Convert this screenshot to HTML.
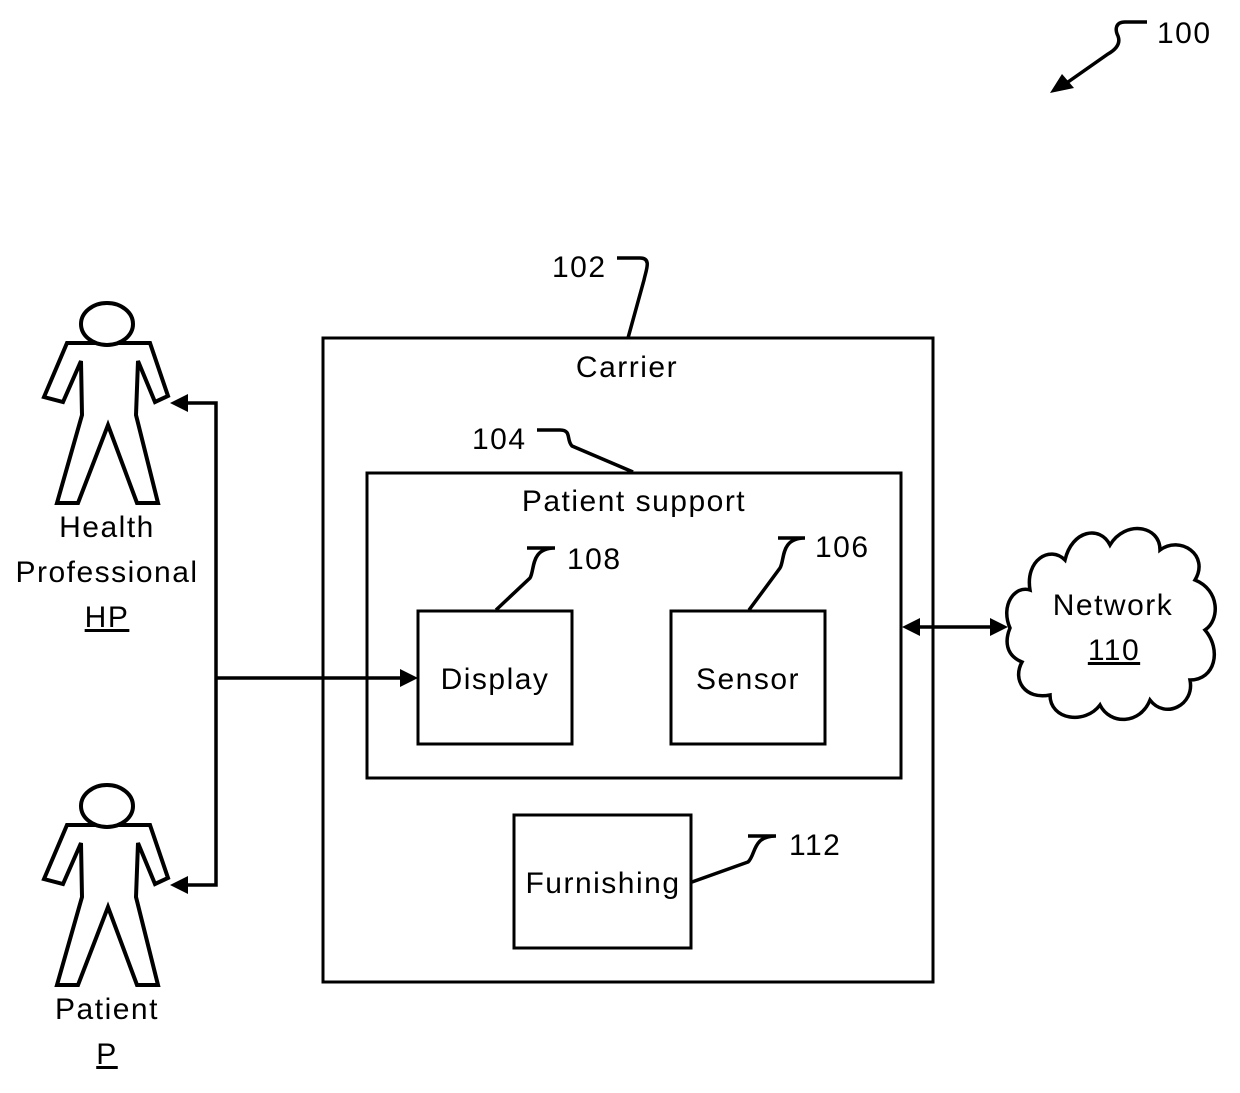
<!DOCTYPE html>
<html><head><meta charset="utf-8"><style>
html,body{margin:0;padding:0;background:#fff;}
text{font-family:"Liberation Sans",sans-serif;font-size:30px;letter-spacing:1.5px;fill:#000;}
</style></head><body>
<svg width="1240" height="1088" viewBox="0 0 1240 1088" xmlns="http://www.w3.org/2000/svg">
<defs>
<g id="person" fill="none" stroke="#000" stroke-width="4" stroke-linejoin="miter">
<path d="M67,343 L150,343 L168,396 L155,402 L138,361 L136,415 L158,503 L137,503 L108,425 L78,503 L57,503 L82,415 L81,361 L63,402 L44,397 Z"/>
<ellipse cx="107" cy="324" rx="26" ry="21" fill="#fff"/>
</g>
</defs>
<g fill="none" stroke="#000" stroke-width="3">
<rect x="323" y="338" width="610" height="644"/>
<rect x="367" y="473" width="534" height="305"/>
<rect x="418" y="611" width="154" height="133"/>
<rect x="671" y="611" width="154" height="133"/>
<rect x="514" y="815" width="177" height="133"/>
</g>
<use href="#person"/>
<use href="#person" transform="translate(0,482)"/>
<g fill="none" stroke="#000" stroke-width="3.5">
<path d="M186,403 L216,403 L216,885 L186,885"/>
<path d="M216,678 L400,678"/>
<path d="M918,627 L990,627"/>
<path d="M1147,22 L1125,22 C1115,22 1115,30 1118,36 C1121,44 1115,50 1108,54 L1068,82"/>
<path d="M617,258 L640,258 C652,258 646,270 644,280 L628,338"/>
<path d="M537,430 L560,430 C572,430 566,440 572,446 L633,472"/>
<path d="M527,548 L555,548 C530,548 535,570 530,578 L496,610"/>
<path d="M778,538 L805,538 C780,538 785,560 780,568 L749,610"/>
<path d="M748,836 L776,836 C752,836 756,855 748,862 L692,882"/>
</g>
<g fill="#000">
<polygon points="170,403 188,394 188,412"/>
<polygon points="170,885 188,876 188,894"/>
<polygon points="418,678 400,669 400,687"/>
<polygon points="902,627 920,618 920,636"/>
<polygon points="1008,627 990,618 990,636"/>
<polygon points="1050,93 1062,74 1074,88"/>
</g>
<path fill="#fff" stroke="#000" stroke-width="3.5" d="M1010,628 C1000,605 1015,585 1030,590 C1025,560 1050,545 1065,560 C1072,530 1100,525 1110,545 C1125,520 1160,525 1160,550 C1180,535 1210,555 1195,580 C1220,590 1220,620 1205,630 C1222,650 1215,680 1190,680 C1195,705 1165,720 1150,700 C1140,725 1110,725 1100,705 C1085,725 1050,720 1050,695 C1025,700 1012,680 1022,662 C1005,655 1005,640 1010,628 Z"/>
<g text-anchor="middle">
<text x="627" y="377">Carrier</text>
<text x="634" y="511">Patient support</text>
<text x="495" y="689">Display</text>
<text x="748" y="689">Sensor</text>
<text x="603" y="893">Furnishing</text>
<text x="1113" y="615">Network</text>
<text x="1114" y="660" text-decoration="underline">110</text>
<text x="107" y="537">Health</text>
<text x="107" y="582">Professional</text>
<text x="107" y="627" text-decoration="underline">HP</text>
<text x="107" y="1019">Patient</text>
<text x="107" y="1064" text-decoration="underline">P</text>
</g>
<text x="1157" y="43">100</text>
<text x="552" y="277">102</text>
<text x="472" y="449">104</text>
<text x="567" y="569">108</text>
<text x="815" y="557">106</text>
<text x="789" y="855">112</text>
</svg>
</body></html>
